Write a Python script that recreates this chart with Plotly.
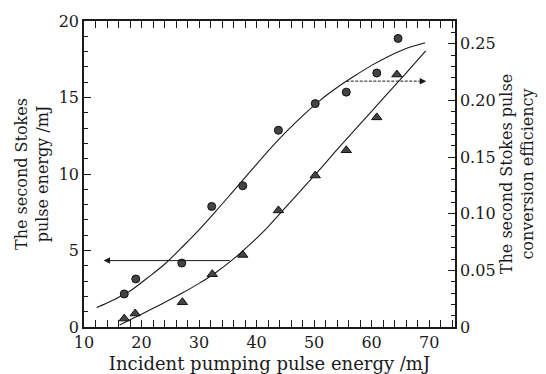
import plotly.graph_objects as go

# Measured data (incident pumping pulse energy, mJ)
circle_x = [17.0, 19.0, 27.0, 32.2, 37.6, 43.8, 50.2, 55.6, 60.9, 64.6]
circle_y = [2.16, 3.14, 4.18, 7.88, 9.23, 12.86, 14.6, 15.35, 16.6, 18.86]
tri_x = [17.0, 18.9, 27.1, 32.3, 37.6, 43.8, 50.2, 55.6, 60.9, 64.4]
tri_y = [0.55, 0.88, 1.62, 3.45, 4.71, 7.62, 9.9, 11.55, 13.7, 16.5]

# Fitted curves
fit1_x = [12.2, 15, 18, 21, 24, 27, 30, 33, 36, 39, 42, 45, 48, 51, 54, 57, 60, 63, 66, 69.3]
fit1_y = [1.27, 1.75, 2.35, 3.2, 4.1, 5.2, 6.35, 7.6, 8.9, 10.2, 11.5, 12.7, 13.8, 14.8,
          15.65, 16.4, 17.1, 17.7, 18.2, 18.58]
fit2_x = [16.2, 18, 21, 24, 27, 30, 33, 36, 39, 42, 45, 48, 51, 54, 57, 60, 63, 66, 69.4]
fit2_y = [0.13, 0.47, 1.03, 1.6, 2.2, 2.85, 3.58, 4.45, 5.45, 6.55, 7.8, 9.05, 10.3,
          11.6, 12.85, 14.1, 15.35, 16.6, 18.05]

# Indicator arrows: [tail x, head x], y level
arrow_left_x = [35.6, 13.4]
arrow_left_y = 4.34
arrow_right_x = [55.6, 69.5]
arrow_right_y = 16.07

x_ticks = [10, 20, 30, 40, 50, 60, 70]
y_ticks = [0, 5, 10, 15, 20]
y2_ticks = [0, 0.05, 0.10, 0.15, 0.20, 0.25]
y2_labels = ["0", "0.05", "0.10", "0.15", "0.20", "0.25"]

FONT = "DejaVu Serif"
ink = "#1a1a1a"

fig = go.Figure()
fig.add_trace(go.Scatter(x=fit1_x, y=fit1_y, mode="lines", line=dict(color=ink, width=1.1, shape="spline"), showlegend=False))
fig.add_trace(go.Scatter(x=fit2_x, y=fit2_y, mode="lines", line=dict(color=ink, width=1.1, shape="spline"), showlegend=False))
# dashed shaft of the right-pointing arrow
fig.add_trace(go.Scatter(x=[arrow_right_x[0], arrow_right_x[1] - 0.8], y=[arrow_right_y, arrow_right_y], mode="lines",
                         line=dict(color=ink, width=1, dash="3px,1.5px"), showlegend=False, hoverinfo="skip"))
fig.add_trace(go.Scatter(x=circle_x, y=circle_y, mode="markers",
                         marker=dict(symbol="circle", size=8, color="#444", line=dict(color="#111", width=1)), showlegend=False))
fig.add_trace(go.Scatter(x=tri_x, y=tri_y, mode="markers",
                         marker=dict(symbol="triangle-up", size=9, color="#444", line=dict(color="#111", width=1)), showlegend=False))
# invisible trace to anchor right axis
fig.add_trace(go.Scatter(x=[circle_x[0]], y=[0.0], yaxis="y2", mode="markers", marker=dict(opacity=0), showlegend=False, hoverinfo="skip"))

fig.add_annotation(x=arrow_left_x[1], y=arrow_left_y, ax=arrow_left_x[0], ay=arrow_left_y,
                   xref="x", yref="y", axref="x", ayref="y", showarrow=True, arrowhead=2,
                   arrowsize=1.3, arrowwidth=1, arrowcolor=ink, text="")
fig.add_annotation(x=arrow_right_x[1], y=arrow_right_y, ax=arrow_right_x[1] - 1.0, ay=arrow_right_y,
                   xref="x", yref="y", axref="x", ayref="y", showarrow=True, arrowhead=2,
                   arrowsize=1.3, arrowwidth=1, arrowcolor=ink, text="")

axis_common = dict(showline=True, linecolor=ink, linewidth=1.5, showgrid=False, zeroline=False,
                   ticks="inside", tickcolor=ink, tickwidth=1.2, ticklen=7,
                   tickfont=dict(family=FONT, size=16, color=ink))

fig.update_layout(
    width=546, height=374,
    margin=dict(l=84, r=91, t=21, b=47, autoexpand=False),
    paper_bgcolor="white", plot_bgcolor="white",
    xaxis=dict(range=[10, 74.5], tickvals=x_ticks, mirror="allticks",
               minor=dict(dtick=2, tick0=10, ticks="inside", ticklen=4, tickcolor=ink, showgrid=False),
               title=dict(text="Incident pumping pulse energy /mJ", font=dict(family=FONT, size=18, color=ink), standoff=7),
               **axis_common),
    yaxis=dict(range=[0, 20], tickvals=y_ticks,
               minor=dict(dtick=1, tick0=0, ticks="inside", ticklen=4, tickcolor=ink, showgrid=False),
               title=dict(text="The second Stokes<br>pulse energy /mJ", font=dict(family=FONT, size=16, color=ink), standoff=6),
               **axis_common),
    yaxis2=dict(range=[0, 0.27], overlaying="y", side="right", tickvals=y2_ticks, ticktext=y2_labels,
                minor=dict(dtick=0.01, tick0=0, ticks="inside", ticklen=4, tickcolor=ink, showgrid=False),
                title=dict(text="The second Stokes pulse<br>conversion efficiency", font=dict(family=FONT, size=16, color=ink), standoff=6),
                **axis_common),
)

fig.write_html("out.html")
